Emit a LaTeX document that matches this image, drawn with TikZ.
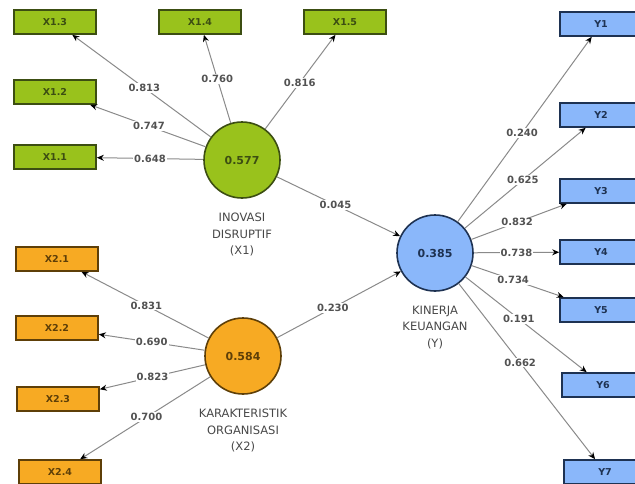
\documentclass[tikz,border=0pt]{standalone}
\usepackage{fontspec}
\setmainfont{DejaVu Sans}
\usetikzlibrary{positioning,arrows.meta}
\definecolor{grn}{HTML}{99C21C}
\definecolor{grnd}{HTML}{3C4E12}
\definecolor{org}{HTML}{F7AA23}
\definecolor{orgd}{HTML}{5E3F08}
\definecolor{blu}{HTML}{8AB7FA}
\definecolor{blud}{HTML}{1E3252}
\definecolor{ln}{HTML}{8A8A8A}
\tikzset{
  ind/.style={draw, line width=1.6pt, minimum width=82pt, minimum height=24pt, inner sep=0pt, font=\fontsize{9.5}{10}\selectfont\bfseries},
  lv/.style={circle, draw, line width=1.6pt, minimum size=76pt, inner sep=0pt, font=\fontsize{11}{12}\selectfont\bfseries},
  lvname/.style={align=center, inner sep=1pt, text=black!72, font=\fontsize{11.5}{16.5}\selectfont},
  ld/.style={draw=ln, line width=1pt, -{Stealth[length=7pt, width=6pt, color=black]}},
  wt/.style={fill=white, inner sep=1pt, text=black!68, font=\fontsize{10}{12}\selectfont\bfseries, pos=#1},
  wt/.default=0.5
}
\begin{document}
\begin{tikzpicture}[x=1pt, y=-1pt]
\useasboundingbox (0,0) rectangle (635,483);
\clip (0,0) rectangle (635,483);
% latent variables and their names
\node[lv, fill=grn, draw=grnd, text=grnd] (X1) at (242,160) {0.577};
\node[lv, fill=org, draw=orgd, text=orgd] (X2) at (243,356) {0.584};
\node[lv, fill=blu, draw=blud, text=blud] (Y) at (435,253) {0.385};
\node[lvname, below=13pt of X1] (nX1) {INOVASI\\DISRUPTIF\\(X1)};
\node[lvname, below=13pt of X2] (nX2) {KARAKTERISTIK\\ORGANISASI\\(X2)};
\node[lvname, below=13pt of Y] (nY) {KINERJA\\KEUANGAN\\(Y)};
% indicators of X1
\foreach \n/\t/\x/\y/\w/\p in {x13/X1.3/55/22/0.813/0.48, x14/X1.4/200/22/0.760/0.5, x15/X1.5/345/22/0.816/0.49, x12/X1.2/55/92/0.747/0.49, x11/X1.1/55/157/0.648/0.5} {
  \node[ind, fill=grn, draw=grnd, text=grnd] (\n) at (\x,\y) {\t};
  \draw[ld] (X1) -- node[wt=\p] {\w} (\n);}
% indicators of X2
\foreach \n/\t/\x/\y/\w/\p in {x21/X2.1/57/259/0.831/0.49, x22/X2.2/57/328/0.690/0.5, x23/X2.3/58/399/0.823/0.5, x24/X2.4/60/472/0.700/0.49} {
  \node[ind, fill=org, draw=orgd, text=orgd] (\n) at (\x,\y) {\t};
  \draw[ld] (X2) -- node[wt=\p] {\w} (\n);}
% indicators of Y
\foreach \n/\t/\x/\y/\w/\p in {y1/Y1/601/24/0.240/0.48, y2/Y2/601/115/0.625/0.48, y3/Y3/601/191/0.832/0.48, y4/Y4/601/252/0.738/0.5, y5/Y5/601/310/0.734/0.45, y6/Y6/603/385/0.191/0.44, y7/Y7/605/472/0.662/0.45} {
  \node[ind, fill=blu, draw=blud, text=blud] (\n) at (\x,\y) {\t};
  \draw[ld] (Y) -- node[wt=\p] {\w} (\n);}
% structural paths
\draw[ld] (X1) -- node[wt=0.475] {0.045} (Y);
\draw[ld] (X2) -- node[wt=0.45] {0.230} (Y);
\end{tikzpicture}
\end{document}
